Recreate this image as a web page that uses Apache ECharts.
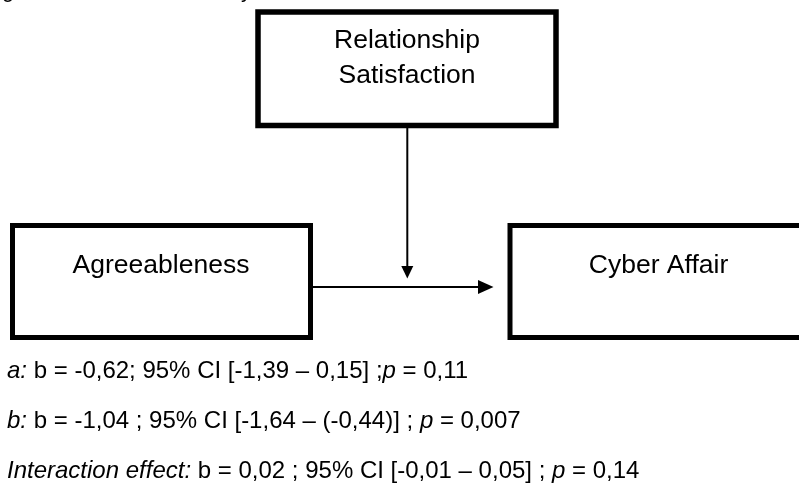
<!DOCTYPE html>
<html>
<head>
<meta charset="utf-8">
<script src="https://cdn.jsdelivr.net/npm/echarts@6/dist/echarts.min.js"></script>
<style>
html,body{margin:0;padding:0;background:#fff;}
#chart{width:799px;height:502px;}
</style>
</head>
<body>
<div id="chart"></div>
<script>
// ---- content ----
const nodeLabels = ['Relationship\nSatisfaction', 'Agreeableness', 'Cyber Affair'];
const pathNames = ['a:', 'b:', 'Interaction effect:'];
const statsText = [
  ' b = -0,62; 95% CI [-1,39 \u2013 0,15] ;',
  ' b = -1,04 ; 95% CI [-1,64 \u2013 (-0,44)] ; ',
  ' b = 0,02 ; 95% CI [-0,01 \u2013 0,05] ; '
];
const pValues = ['0,11', '0,007', '0,14'];
const cutCaption = ['g', 'y'];

// ---- layout ----
const FONT = "'Liberation Sans', Arial, sans-serif";
const boxes = [
  {x: 258, y: 12, w: 298, h: 113.5, lw: 5.5, tx: 407, ty: [41, 76]},
  {x: 12.5, y: 225.5, w: 298, h: 112, lw: 5, tx: 161, ty: [266]},
  {x: 510, y: 225.5, w: 300, h: 112, lw: 5, tx: 658.5, ty: [266]}
];
const statsX = 7, statsY = [371.7, 421.7, 471.7];

const chart = echarts.init(document.getElementById('chart'), null, {renderer: 'canvas'});
const g = [];

boxes.forEach(function (b, i) {
  g.push({
    type: 'rect',
    shape: {x: b.x, y: b.y, width: b.w, height: b.h},
    style: {fill: '#fff', stroke: '#000', lineWidth: b.lw},
    z: 1
  });
  const lines = nodeLabels[i].split('\n');
  lines.forEach(function (t, k) {
    g.push({
      type: 'text',
      x: b.tx, y: b.ty[k],
      style: {text: t, font: '26.5px ' + FONT, fill: '#000', align: 'center', verticalAlign: 'middle'},
      z: 3
    });
  });
});

// moderation arrow (vertical)
g.push({type: 'line', shape: {x1: 407.3, y1: 128, x2: 407.3, y2: 267}, style: {stroke: '#000', lineWidth: 2}, z: 2});
g.push({type: 'polygon', shape: {points: [[401.3, 266], [413.3, 266], [407.3, 278.5]]}, style: {fill: '#000'}, z: 2});
// main path arrow (horizontal)
g.push({type: 'line', shape: {x1: 313, y1: 287, x2: 480, y2: 287}, style: {stroke: '#000', lineWidth: 2}, z: 2});
g.push({type: 'polygon', shape: {points: [[478, 280], [478, 294], [493.5, 287]]}, style: {fill: '#000'}, z: 2});

// statistics lines
pathNames.forEach(function (n, i) {
  g.push({
    type: 'text',
    x: statsX, y: statsY[i],
    style: {
      text: '{i|' + n + '}{n|' + statsText[i] + '}{i|p}{n| = ' + pValues[i] + '}',
      font: '24px ' + FONT, fill: '#000', align: 'left', verticalAlign: 'middle',
      rich: {
        i: {font: 'italic 24px ' + FONT, fill: '#000'},
        n: {font: '24px ' + FONT, fill: '#000'}
      }
    },
    z: 3
  });
});

// cut-off caption line at the very top (only descenders visible)
g.push({type: 'text', x: 2, y: -8.6, style: {text: cutCaption[0], font: '22px ' + FONT, fill: '#000', verticalAlign: 'middle'}});
g.push({type: 'text', x: 241, y: -8.6, style: {text: cutCaption[1], font: '22px ' + FONT, fill: '#000', verticalAlign: 'middle'}});

chart.setOption({
  backgroundColor: '#fff',
  animation: false,
  graphic: {elements: g}
});
</script>
</body>
</html>
